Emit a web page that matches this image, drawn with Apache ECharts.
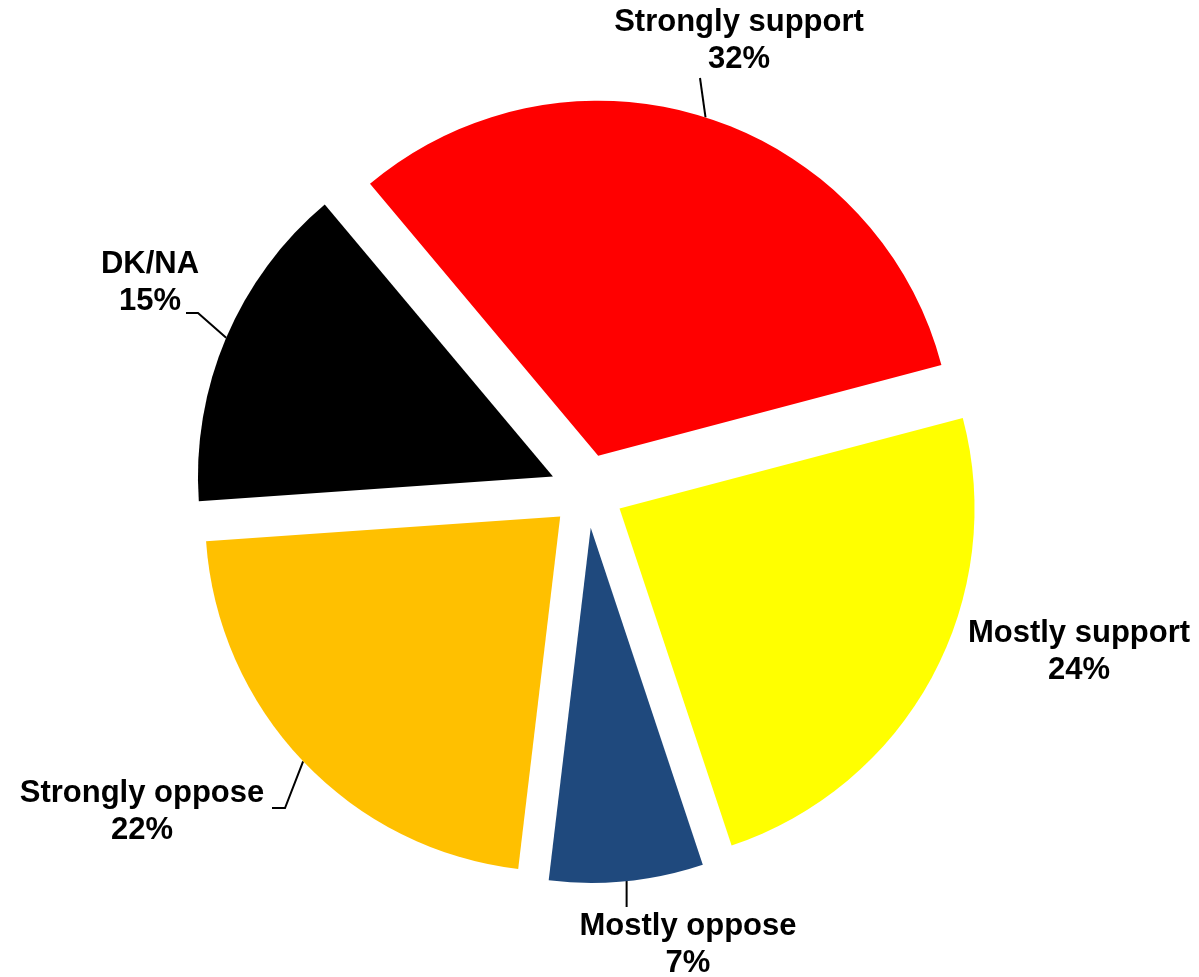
<!DOCTYPE html>
<html>
<head>
<meta charset="utf-8">
<script src="https://cdn.jsdelivr.net/npm/echarts@6/dist/echarts.min.js"></script>
<style>
  html, body { margin: 0; padding: 0; background: #ffffff; }
  #chart { width: 1199px; height: 977px; }
</style>
</head>
<body>
<div id="chart"></div>
<script>
// Survey responses, clockwise from the top
const categories = ['Strongly support', 'Mostly support', 'Mostly oppose', 'Strongly oppose', 'DK/NA'];
const shares = [32, 24, 7, 22, 15];
const sliceColors = ['#FF0000', '#FFFF00', '#1F497D', '#FFC000', '#000000'];

// Centre of each two-line label block
const labelSpots = [
  [739, 41],
  [1079, 652],
  [688, 945],
  [142, 812],
  [150, 283]
];
// Leader line end relative to the label centre ([dx, dy]; dx null = straight down from the slice),
// plus the length of the short horizontal elbow next to the text
const leaderEnds = [[-39, 37], null, [null, -38], [130, -4], [36, 30]];
const leaderElbows = [0, 0, 0, 13, 12];

const PIE_CENTER = [587, 491];
const PIE_RADIUS = 355;
const EXPLODE = 37;
const START = 130;

const chart = echarts.init(document.getElementById('chart'), null, { renderer: 'canvas' });

chart.setOption({
  backgroundColor: '#ffffff',
  animation: false,
  series: [
    // exploded slices
    {
      type: 'pie',
      center: PIE_CENTER,
      radius: [0, PIE_RADIUS],
      startAngle: START,
      clockwise: true,
      selectedMode: 'multiple',
      selectedOffset: EXPLODE,
      silent: true,
      label: { show: false },
      labelLine: { show: false },
      data: categories.map((name, i) => ({
        name: name,
        value: shares[i],
        selected: true,
        itemStyle: { color: sliceColors[i] }
      }))
    },
    // transparent ring at the exploded edge that carries the labels and leader lines
    {
      type: 'pie',
      center: PIE_CENTER,
      radius: [0, PIE_RADIUS + EXPLODE],
      startAngle: START,
      clockwise: true,
      silent: true,
      avoidLabelOverlap: false,
      itemStyle: { color: 'rgba(0,0,0,0)' },
      label: {
        show: true,
        position: 'outside',
        formatter: p => p.name + '\n' + p.value + '%',
        fontFamily: 'Liberation Sans, Arial, sans-serif',
        fontWeight: 'bold',
        fontSize: 31,
        lineHeight: 37,
        color: '#000000',
        align: 'center'
      },
      labelLine: {
        show: true,
        length: 12,
        length2: 12,
        lineStyle: { color: '#000000', width: 2 }
      },
      labelLayout: function (params) {
        const i = params.dataIndex;
        const s = labelSpots[i];
        const out = { x: s[0], y: s[1], align: 'center', verticalAlign: 'middle' };
        const spec = leaderEnds[i];
        const pts = params.labelLinePoints;
        if (spec && pts && pts.length) {
          const anchor = pts[0];
          const end = [spec[0] == null ? anchor[0] : s[0] + spec[0], s[1] + spec[1]];
          const elbow = [end[0] + leaderElbows[i], end[1]];
          out.labelLinePoints = [anchor, elbow, end];
        }
        return out;
      },
      data: categories.map((name, i) => ({
        name: name,
        value: shares[i],
        labelLine: { show: leaderEnds[i] != null }
      }))
    }
  ]
});
</script>
</body>
</html>
